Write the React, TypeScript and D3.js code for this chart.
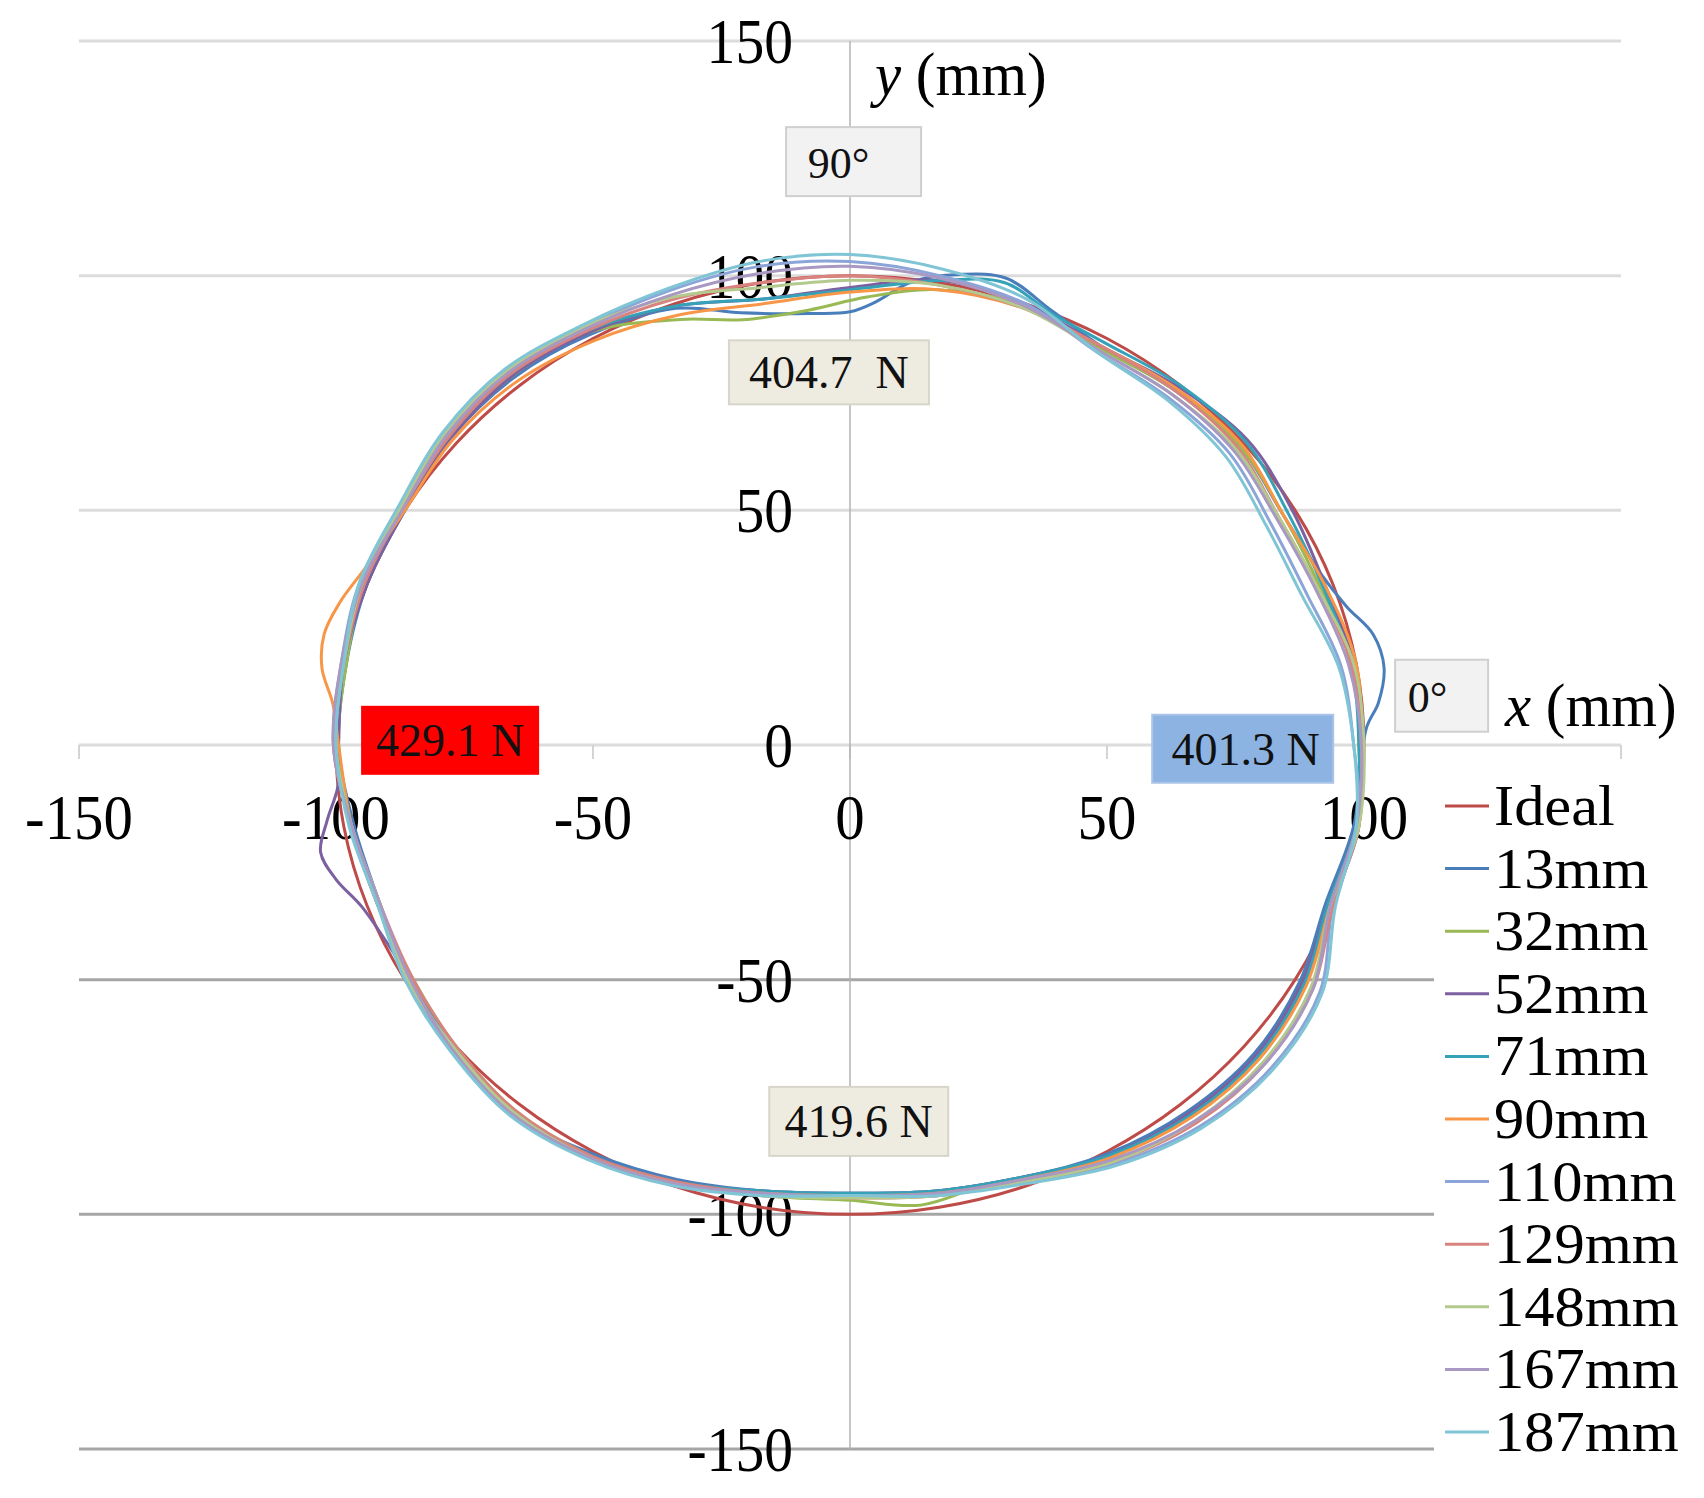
import React from 'react';
import * as d3 from 'd3';

// ---------- data ----------
const X_TICK_LABELS = [-150, -100, -50, 0, 50, 100];
const X_TICK_MARKS = [-150, -100, -50, 0, 50, 100, 150];
const Y_TICKS = [150, 100, 50, 0, -50, -100, -150];

const SERIES_NAMES = ['Ideal', '13mm', '32mm', '52mm', '71mm', '90mm', '110mm', '129mm', '148mm', '167mm', '187mm'];

// each trace: [angle in degrees, radius in mm]
const IDEAL: number[][] = [[0,100],[10,100],[20,100],[30,100],[40,100],[50,100],[60,100],[70,100],[80,100],[90,100],[100,100],[110,100],[120,100],[130,100],[140,100],[150,100],[160,100],[170,100],[180,100],[190,100],[200,100],[210,100],[220,100],[230,100],[240,100],[250,100],[260,100],[270,100],[280,100],[290,100],[300,100],[310,100],[320,100],[330,100],[340,100],[350,100]];
const S13: number[][] = [[2,100.5],[5,103.2],[9,105.2],[13,104.5],[17,101],[22,98.5],[30,97.5],[40,99],[50,98.5],[60,98],[67,100.5],[73,104],[78,102.5],[83,99.5],[87,94.5],[90,92.3],[95,92.3],[103,94.5],[110,99],[120,101],[130,102],[140,101.5],[150,100],[160,100],[170,99.5],[180,99.5],[190,98],[200,97.5],[210,99.5],[220,101],[230,102.5],[240,100.5],[250,98.5],[260,96.5],[270,95.5],[280,96.5],[290,98],[300,100.5],[310,102],[320,102.5],[330,101],[340,98.5],[350,99.5]];
const S32: number[][] = [[0,99],[10,99.5],[20,97.5],[30,97.5],[40,99],[50,98.5],[60,97.5],[70,99.5],[80,98.5],[88,95.5],[95,93],[103,93],[110,96.5],[120,101.5],[130,102.5],[140,102],[150,100.5],[160,100.5],[170,99.5],[180,99.5],[190,98.5],[200,98],[210,98.5],[220,100],[230,101.5],[240,101],[250,99.5],[260,97.5],[270,97],[278,99],[285,97.5],[290,98.5],[300,101.5],[310,103],[320,103.5],[330,102],[340,99.5],[350,100.5]];
const S52: number[][] = [[0,99.5],[10,99.5],[20,98.5],[30,99.5],[40,101],[50,99.5],[60,98],[70,100],[80,100.5],[90,97.5],[100,96.5],[110,99.5],[120,101.5],[130,102.5],[140,101.5],[150,100],[160,100],[170,100],[180,99.5],[185,100],[189,103],[192.5,105.5],[196,104],[200,101],[210,99],[220,100.5],[230,102],[240,101],[250,99],[260,96.5],[270,95.5],[280,96.5],[290,98],[300,101],[310,102.5],[320,103],[330,101.5],[340,99],[350,100]];
const S71: number[][] = [[0,99],[10,99],[20,98],[30,98.5],[40,100.5],[50,100],[60,99],[67,100],[73,103],[80,100.5],[90,97],[100,96.5],[110,99.5],[120,102],[130,103],[140,102],[150,100.5],[160,100.5],[170,100],[180,100],[190,98.5],[200,98],[210,99],[220,100.5],[230,102],[240,101],[250,99],[260,96.5],[270,95.5],[280,96.5],[290,98],[300,101],[310,103],[320,103.5],[330,102],[340,99],[350,100]];
const S90: number[][] = [[0,99.5],[10,100],[20,98.5],[30,97.5],[40,99.5],[50,99],[60,98],[70,99],[80,98.5],[90,96.5],[100,95.5],[110,97.5],[120,99.5],[130,101],[140,101],[150,100],[158,101.5],[163,103.8],[167,105],[171,104],[175,101],[180,99.5],[190,98.5],[200,98],[210,99],[220,101],[230,102.5],[240,101.5],[250,99.5],[260,97],[270,96],[280,97],[290,98.5],[300,101.5],[310,103.5],[320,104],[330,102.5],[340,99.5],[350,100.5]];
const S110: number[][] = [[0,98],[10,97],[20,94.5],[30,94.5],[40,96.5],[50,96.5],[60,96.5],[70,100],[80,101.5],[90,103],[100,103.5],[110,103],[120,103],[130,104],[140,103],[150,101],[160,101.5],[170,100.5],[180,100.5],[190,98.5],[200,97.5],[210,99.5],[220,101],[230,102.5],[240,101.5],[250,99.5],[260,97.5],[270,96],[280,97.5],[290,99],[300,103],[310,106],[320,107],[330,105.5],[340,100],[350,100.5]];
const S129: number[][] = [[0,99.5],[10,99],[20,97],[30,96.5],[40,98.5],[50,98.5],[60,98],[70,99],[80,99.5],[90,100],[100,100],[110,101],[120,102],[130,103],[140,102],[150,100.5],[160,100.5],[170,100],[180,100.5],[190,98.5],[200,97.5],[210,98.5],[220,100],[230,101.5],[240,101],[250,99],[260,97],[270,96.5],[280,97.5],[290,99],[300,102.5],[310,105],[320,105.5],[330,104],[340,100],[350,100.5]];
const S148: number[][] = [[0,100],[10,99.5],[20,97],[30,96.5],[40,98],[50,97.5],[60,97],[70,99],[80,99.5],[90,99],[100,99],[110,101.5],[120,103],[130,104],[140,103],[150,101],[160,101],[170,100],[180,100],[190,98.5],[200,97.5],[210,99.5],[220,100.5],[230,102],[240,101.5],[250,99.5],[260,97.5],[270,96.5],[280,97.5],[290,99],[300,102.5],[310,104.5],[320,105],[330,103.5],[340,99.5],[350,100.5]];
const S167: number[][] = [[0,99.5],[10,98.5],[20,96.5],[30,96],[40,97.5],[50,97.5],[60,97],[70,99.5],[80,101],[90,102],[100,102],[110,102],[120,102.5],[130,103.5],[140,102.5],[150,100.5],[160,101],[170,100.5],[180,100.5],[190,98.5],[200,97.5],[210,99],[220,101],[230,102.5],[240,101.5],[250,99.5],[260,97],[270,96],[280,97],[290,98.5],[300,102],[310,104.5],[320,105.5],[330,104],[340,99.5],[350,100]];
const S187: number[][] = [[0,98],[10,96.5],[20,93.5],[30,93.5],[40,95.5],[50,96],[60,96.5],[70,101],[80,103],[90,104.5],[100,104.5],[110,103.5],[120,103.5],[130,104.5],[140,103.5],[150,101.5],[160,101.5],[170,100],[180,100],[190,99],[200,98],[210,100],[220,101.5],[230,103],[240,102],[250,100],[260,97.5],[270,96],[280,97.5],[290,99.5],[300,103.5],[310,106.5],[320,107.5],[330,106],[340,100.5],[350,100]];

const SERIES_DATA = [IDEAL, S13, S32, S52, S71, S90, S110, S129, S148, S167, S187];

const ANNOT_TEXT = ['90°', '404.7  N', '429.1 N', '401.3 N', '0°', '419.6 N'];
const ANNOT_X = [0.7, -4.1, -77.8, 76.4, 115.1, 1.7];
const ANNOT_Y = [124.3, 79.4, 1.0, -0.8, 10.5, -80.2];

// ---------- styles ----------
const SERIES_COLORS = ['#be4b48', '#4a7ebb', '#98b954', '#7d60a0', '#35a2b8', '#f79646', '#8ca5d9', '#d9837f', '#b3c98d', '#a898c2', '#80c5d5'];
const ANNOT_W = [135, 200, 176, 181, 93, 179];
const ANNOT_H = [69, 64, 67, 68, 72, 69];
const ANNOT_FILL = ['#f2f2f2', '#eeece1', '#ff0000', '#8db3e2', '#f2f2f2', '#eeece1'];
const ANNOT_STROKE = ['#cfcfcf', '#d8d6ca', '#ff0000', '#a9c4e8', '#cfcfcf', '#d8d6ca'];
const ANNOT_DX = [-15, 0, 0, 3, -14, 0];
const ANNOT_FS = [44, 46, 46, 46, 44, 46];

const FONT = '"Liberation Serif", "Times New Roman", serif';
const W = 1704;
const H = 1498;

function T(props: { x: number; y: number; fs: number; sx?: number; anchor?: string; children: React.ReactNode }) {
  const { x, y, fs, sx = 1, anchor = 'start', children } = props;
  return (
    <text
      transform={`translate(${x},${y}) scale(${sx},1)`}
      fontFamily={FONT}
      fontSize={fs}
      textAnchor={anchor}
      fill="#000"
    >
      {children}
    </text>
  );
}

export default function App() {
  const x = d3.scaleLinear().domain([-150, 150]).range([79, 1621]);
  const y = d3.scaleLinear().domain([-150, 150]).range([1449, 41]);

  const toXY = (pts: number[][]): [number, number][] =>
    pts.map(([a, r]) => [r * Math.cos((a * Math.PI) / 180), r * Math.sin((a * Math.PI) / 180)]);

  const line = d3
    .line<[number, number]>()
    .x((d) => x(d[0]))
    .y((d) => y(d[1]))
    .curve(d3.curveCatmullRomClosed.alpha(0.5));

  const lowerGridEnd = 1434;
  const legendX = 1445;
  const legendY0 = 806;
  const legendStep = 62.6;

  return (
    <svg width={W} height={H} style={{ position: 'absolute', left: 0, top: 0, background: '#fff' }}>
      <rect x={0} y={0} width={W} height={H} fill="#fff" />
      {/* gridlines */}
      {Y_TICKS.map((v) => (
        <line
          key={'g' + v}
          x1={x(-150)}
          x2={v >= 0 ? x(150) : lowerGridEnd}
          y1={y(v)}
          y2={y(v)}
          stroke={v >= 0 ? '#dcdcdc' : '#a6a6a6'}
          strokeWidth={3}
        />
      ))}
      {/* x tick marks */}
      {X_TICK_MARKS.map((v) => (
        <line key={'xt' + v} x1={x(v)} x2={x(v)} y1={y(0)} y2={y(0) + 14} stroke="#d4d4d4" strokeWidth={2} />
      ))}
      {/* y axis */}
      <line x1={x(0)} x2={x(0)} y1={y(150)} y2={y(-150)} stroke="#b3b3b3" strokeWidth={1.5} />

      {/* tick labels */}
      {Y_TICKS.map((v) => (
        <T key={'yl' + v} x={793} y={y(v) + 22} fs={64} sx={0.9} anchor="end">
          {v < 0 ? '-' + Math.abs(v) : String(v)}
        </T>
      ))}
      {X_TICK_LABELS.map((v) => (
        <T key={'xl' + v} x={x(v)} y={y(0) + 94} fs={64} sx={0.92} anchor="middle">
          {v < 0 ? '-' + Math.abs(v) : String(v)}
        </T>
      ))}

      {/* axis titles */}
      <T x={875} y={95} fs={62} sx={0.95}>
        <tspan fontStyle="italic">y</tspan> (mm)
      </T>
      <T x={1505} y={726} fs={62} sx={0.95}>
        <tspan fontStyle="italic">x</tspan> (mm)
      </T>

      {/* annotation boxes */}
      {ANNOT_TEXT.map((t, i) => {
        const cx = x(ANNOT_X[i]);
        const cy = y(ANNOT_Y[i]);
        return (
          <g key={'a' + i}>
            <rect
              x={cx - ANNOT_W[i] / 2}
              y={cy - ANNOT_H[i] / 2}
              width={ANNOT_W[i]}
              height={ANNOT_H[i]}
              fill={ANNOT_FILL[i]}
              stroke={ANNOT_STROKE[i]}
              strokeWidth={2}
            />
            <text
              x={cx + ANNOT_DX[i]}
              y={cy + 16}
              fontFamily={FONT}
              fontSize={ANNOT_FS[i]}
              textAnchor="middle"
              fill="#111"
              style={{ whiteSpace: 'pre' }}
            >
              {t}
            </text>
          </g>
        );
      })}

      {/* traces */}
      {SERIES_DATA.map((pts, i) => (
        <path
          key={'s' + i}
          d={line(toXY(pts)) || ''}
          fill="none"
          stroke={SERIES_COLORS[i]}
          strokeWidth={3}
          strokeLinejoin="round"
        />
      ))}

      {/* legend */}
      {SERIES_NAMES.map((n, i) => {
        const cy = legendY0 + i * legendStep;
        return (
          <g key={'l' + i}>
            <line x1={legendX} x2={legendX + 44} y1={cy} y2={cy} stroke={SERIES_COLORS[i]} strokeWidth={3} />
            <T x={legendX + 49} y={cy + 19} fs={56} sx={1.08}>
              {n}
            </T>
          </g>
        );
      })}
    </svg>
  );
}
